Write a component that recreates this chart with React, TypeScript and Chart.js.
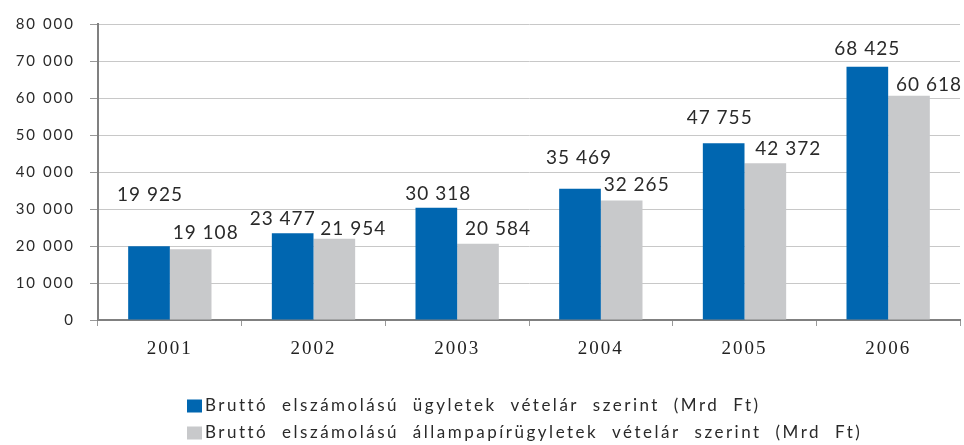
import React, { useEffect, useRef } from 'react';
import { Chart, registerables } from 'chart.js';

Chart.register(...registerables);

const years = ['2001', '2002', '2003', '2004', '2005', '2006'];
const grossDeals = [19925, 23477, 30318, 35469, 47755, 68425];
const govBondDeals = [19108, 21954, 20584, 32265, 42372, 60618];
const seriesNames = [
  'Bruttó elszámolású ügyletek vételár szerint (Mrd Ft)',
  'Bruttó elszámolású állampapírügyletek vételár szerint (Mrd Ft)',
];
const yMax = 80000;
const yStep = 10000;

const seriesColors = ['#0066b0', '#c8c9cb'];

// pixel nudges of value labels relative to bar top (style only)
const labelNudges = [
  [[1, -51], [-10, -14], [2, -14], [-1, -31], [-4, -25], [0, -18]],
  [[15, -16], [19, -10], [20, -15], [15, -16], [23, -14], [20, -11]],
];

const fmt = (v: number) => String(v).replace(/\B(?=(\d{3})+(?!\d))/g, ' ');

const spacingPlugin = {
  id: 'spacing',
  beforeUpdate(chart: any) {
    chart.ctx.letterSpacing = '2px';
  },
  beforeDraw(chart: any) {
    chart.ctx.letterSpacing = '2px';
  },
};

const valueLabelPlugin = {
  id: 'valueLabels',
  afterDatasetsDraw(chart: any) {
    const ctx = chart.ctx;
    ctx.save();
    ctx.font = '19px Lato';
    ctx.letterSpacing = '1px';
    ctx.fillStyle = '#2a2a2a';
    ctx.textAlign = 'center';
    ctx.textBaseline = 'middle';
    chart.data.datasets.forEach((ds: any, di: number) => {
      const meta = chart.getDatasetMeta(di);
      meta.data.forEach((el: any, i: number) => {
        const [dx, dy] = labelNudges[di][i];
        ctx.fillText(fmt(ds.data[i]), el.x + dx, el.y + dy);
      });
    });
    ctx.restore();
  },
};

const legendPlugin = {
  id: 'customLegend',
  afterDraw(chart: any) {
    const ctx = chart.ctx;
    ctx.save();
    ctx.font = '17px Lato';
    ctx.letterSpacing = '2.5px';
    (ctx as any).wordSpacing = '7px';
    ctx.textAlign = 'left';
    ctx.textBaseline = 'middle';
    const rows = [406, 433];
    chart.data.datasets.forEach((ds: any, di: number) => {
      const y = rows[di];
      ctx.fillStyle = ds.backgroundColor;
      ctx.fillRect(187, y - 6.5, 15, 13);
      ctx.fillStyle = '#2a2a2a';
      ctx.fillText(ds.label, 205, y);
    });
    ctx.restore();
  },
};

export default function App() {
  const canvasRef = useRef<HTMLCanvasElement | null>(null);

  useEffect(() => {
    const canvas = canvasRef.current;
    if (!canvas) return;
    const chart = new Chart(canvas, {
      type: 'bar',
      data: {
        labels: years,
        datasets: [
          {
            label: seriesNames[0],
            data: grossDeals,
            backgroundColor: seriesColors[0],
            categoryPercentage: 0.58,
            barPercentage: 1,
          },
          {
            label: seriesNames[1],
            data: govBondDeals,
            backgroundColor: seriesColors[1],
            categoryPercentage: 0.58,
            barPercentage: 1,
          },
        ],
      },
      options: {
        responsive: false,
        animation: false,
        layout: { padding: { top: 22, right: 4, left: 0, bottom: 0 } },
        plugins: {
          legend: { display: false },
          tooltip: { enabled: false },
        },
        scales: {
          x: {
            grid: {
              drawOnChartArea: false,
              drawTicks: true,
              tickLength: 6,
              color: '#999',
              offset: true,
            },
            border: { color: '#808080', width: 2 },
            ticks: {
              padding: 12,
              color: '#222',
              font: { family: 'Liberation Serif', size: 19 },
              maxRotation: 0,
            },
            afterFit(scale: any) {
              scale.height = 125;
            },
          },
          y: {
            min: 0,
            max: yMax,
            ticks: {
              stepSize: yStep,
              padding: 15,
              color: '#2a2a2a',
              font: { family: 'Lato', size: 15 },
              callback: (v: any) => fmt(Number(v)),
            },
            grid: {
              color: '#c8c8c8',
              lineWidth: 1,
              tickLength: 8,
              tickColor: '#999',
            },
            border: { color: '#808080', width: 2 },
            afterFit(scale: any) {
              scale.width = 98;
            },
          },
        },
      },
      plugins: [spacingPlugin, valueLabelPlugin, legendPlugin],
    });
    return () => chart.destroy();
  }, []);

  return (
    <div style={{ position: 'fixed', left: 0, top: 0, width: 964, height: 445, background: '#fff' }}>
      <canvas ref={canvasRef} width={964} height={445} />
    </div>
  );
}
